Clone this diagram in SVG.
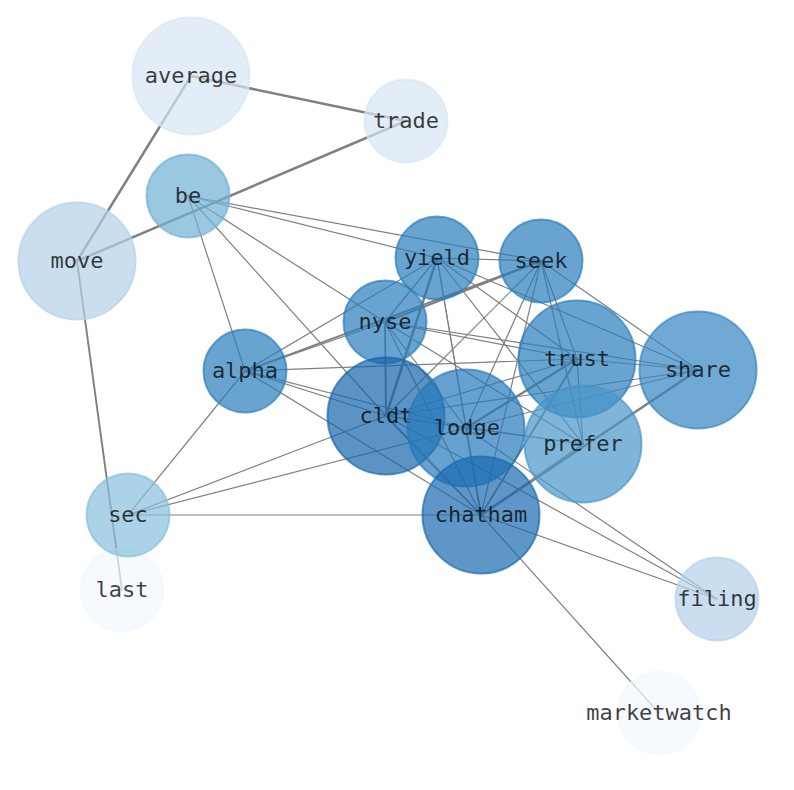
<svg xmlns="http://www.w3.org/2000/svg" width="794" height="790" viewBox="0 0 794 790">
<style>
.e line{stroke:#808080;stroke-width:1.2;stroke-linecap:round}
.e line.t{stroke-width:2.5}
.e line.m{stroke-width:1.9}
.n circle{stroke-width:2;fill-opacity:.7;stroke-opacity:.7}
.n text{font-family:"DejaVu Sans Mono","Liberation Mono",monospace;font-size:22px;text-anchor:middle;fill:#000;fill-opacity:.75}
.c1{fill:#d6e5f4;stroke:#d6e5f4}
.c2{fill:#b3d0e9;stroke:#b3d0e9}
.c3{fill:#6fafd6;stroke:#6fafd6}
.c4{fill:#88bfdb;stroke:#88bfdb}
.c5{fill:#f2f8ff;stroke:#f2f8ff}
.c6{fill:#2a7dbc;stroke:#2a7dbc}
.c7{fill:#3384c0;stroke:#3384c0}
.c8{fill:#4795c9;stroke:#4795c9}
.c9{fill:#2779ba;stroke:#2779ba}
.c10{fill:#1665ac;stroke:#1665ac}
.c11{fill:#1a69af;stroke:#1a69af}
</style>
<rect width="794" height="790" fill="#fff"/>
<g id="edges" class="e">
<line class="t" x1="191" y1="76" x2="406" y2="121"/>
<line class="t" x1="191" y1="76" x2="77" y2="261"/>
<line class="t" x1="77" y1="261" x2="406" y2="121"/>
<line class="m" x1="77" y1="261" x2="122" y2="590"/>
<line x1="188" y1="196" x2="437" y2="258"/>
<line x1="188" y1="196" x2="541" y2="261"/>
<line x1="188" y1="196" x2="385" y2="322"/>
<line x1="188" y1="196" x2="386" y2="416"/>
<line x1="188" y1="196" x2="245" y2="371"/>
<line x1="128" y1="515" x2="245" y2="371"/>
<line x1="128" y1="515" x2="386" y2="416"/>
<line x1="128" y1="515" x2="466" y2="428"/>
<line x1="128" y1="515" x2="481" y2="515"/>
<line x1="245" y1="371" x2="385" y2="322"/>
<line class="m" x1="245" y1="371" x2="541" y2="261"/>
<line x1="245" y1="371" x2="437" y2="258"/>
<line x1="245" y1="371" x2="577" y2="359"/>
<line x1="245" y1="371" x2="386" y2="416"/>
<line x1="245" y1="371" x2="466" y2="428"/>
<line x1="245" y1="371" x2="481" y2="515"/>
<line x1="437" y1="258" x2="541" y2="261"/>
<line x1="437" y1="258" x2="385" y2="322"/>
<line class="t" x1="437" y1="258" x2="386" y2="416"/>
<line x1="437" y1="258" x2="466" y2="428"/>
<line x1="437" y1="258" x2="481" y2="515"/>
<line x1="437" y1="258" x2="577" y2="359"/>
<line x1="437" y1="258" x2="698" y2="370"/>
<line x1="437" y1="258" x2="583" y2="444"/>
<line class="m" x1="541" y1="261" x2="385" y2="322"/>
<line x1="541" y1="261" x2="577" y2="359"/>
<line x1="541" y1="261" x2="698" y2="370"/>
<line x1="541" y1="261" x2="583" y2="444"/>
<line x1="541" y1="261" x2="466" y2="428"/>
<line x1="541" y1="261" x2="481" y2="515"/>
<line x1="541" y1="261" x2="386" y2="416"/>
<line x1="385" y1="322" x2="577" y2="359"/>
<line x1="385" y1="322" x2="698" y2="370"/>
<line class="m" x1="385" y1="322" x2="386" y2="416"/>
<line x1="385" y1="322" x2="466" y2="428"/>
<line x1="385" y1="322" x2="481" y2="515"/>
<line x1="385" y1="322" x2="583" y2="444"/>
<line x1="577" y1="359" x2="698" y2="370"/>
<line x1="577" y1="359" x2="386" y2="416"/>
<line class="t" x1="577" y1="359" x2="466" y2="428"/>
<line x1="577" y1="359" x2="583" y2="444"/>
<line class="m" x1="577" y1="359" x2="481" y2="515"/>
<line x1="698" y1="370" x2="386" y2="416"/>
<line x1="698" y1="370" x2="466" y2="428"/>
<line class="t" x1="698" y1="370" x2="481" y2="515"/>
<line x1="386" y1="416" x2="466" y2="428"/>
<line x1="386" y1="416" x2="583" y2="444"/>
<line class="m" x1="386" y1="416" x2="481" y2="515"/>
<line x1="386" y1="416" x2="717" y2="599"/>
<line x1="466" y1="428" x2="583" y2="444"/>
<line class="m" x1="466" y1="428" x2="481" y2="515"/>
<line x1="466" y1="428" x2="717" y2="599"/>
<line x1="583" y1="444" x2="481" y2="515"/>
<line x1="481" y1="515" x2="717" y2="599"/>
<line x1="481" y1="515" x2="659" y2="713"/>
</g>
<g id="node-average" class="n"><circle class="c1" cx="191" cy="76" r="58.5"/><text x="191" y="83">average</text></g>
<g id="node-trade" class="n"><circle class="c1" cx="406" cy="121" r="41.5"/><text x="406" y="128">trade</text></g>
<g id="node-move" class="n"><circle class="c2" cx="77" cy="261" r="58.5"/><text x="77" y="268">move</text></g>
<g id="node-be" class="n"><circle class="c3" cx="188" cy="196" r="41.5"/><text x="188" y="203">be</text></g>
<g id="node-last" class="n"><circle class="c5" cx="122" cy="590" r="41.5"/><text x="122" y="597">last</text></g>
<g id="node-sec" class="n"><circle class="c4" cx="128" cy="515" r="41.5"/><text x="128" y="522">sec</text></g>
<g id="node-marketwatch" class="n"><circle class="c5" cx="659" cy="713" r="41.5"/><text x="659" y="720">marketwatch</text></g>
<g id="node-filing" class="n"><circle class="c2" cx="717" cy="599" r="41.5"/><text x="717" y="606">filing</text></g>
<g id="node-alpha" class="n"><circle class="c6" cx="245" cy="371" r="41.5"/><text x="245" y="378">alpha</text></g>
<g id="node-yield" class="n"><circle class="c6" cx="437" cy="258" r="41.5"/><text x="437" y="265">yield</text></g>
<g id="node-seek" class="n"><circle class="c6" cx="541" cy="261" r="41.5"/><text x="541" y="268">seek</text></g>
<g id="node-nyse" class="n"><circle class="c6" cx="385" cy="322" r="41.5"/><text x="385" y="329">nyse</text></g>
<g id="node-share" class="n"><circle class="c7" cx="698" cy="370" r="58.5"/><text x="698" y="377">share</text></g>
<g id="node-trust" class="n"><circle class="c6" cx="577" cy="359" r="58.5"/><text x="577" y="366">trust</text></g>
<g id="node-prefer" class="n"><circle class="c8" cx="583" cy="444" r="58.5"/><text x="583" y="451">prefer</text></g>
<g id="node-cldt" class="n"><circle class="c10" cx="386" cy="416" r="58.5"/><text x="386" y="423">cldt</text></g>
<g id="node-lodge" class="n"><circle class="c9" cx="466" cy="428" r="58.5"/><text x="467" y="435">lodge</text></g>
<g id="node-chatham" class="n"><circle class="c11" cx="481" cy="515" r="58.5"/><text x="481" y="522">chatham</text></g>
</svg>
